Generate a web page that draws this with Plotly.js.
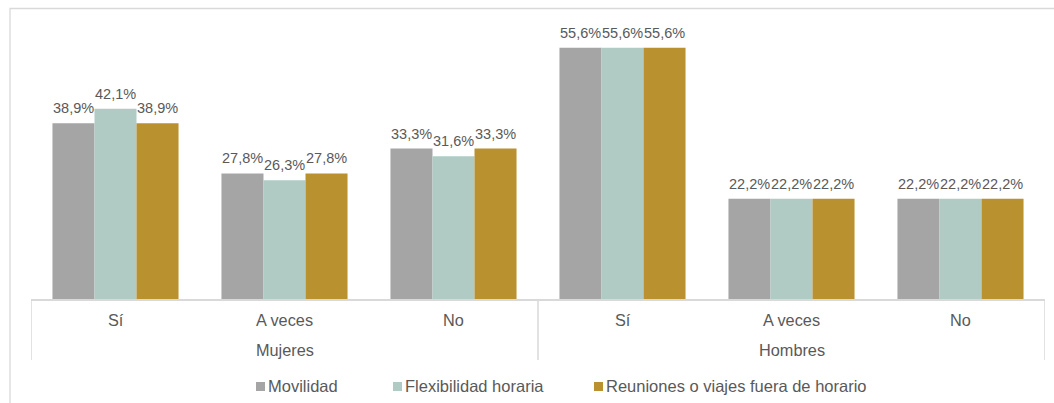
<!DOCTYPE html>
<html>
<head>
<meta charset="utf-8">
<script src="https://cdn.plot.ly/plotly-3.0.1.min.js"></script>
<style>html,body{margin:0;padding:0;background:#fff;}#chart{width:1054px;height:403px;}</style>
</head>
<body>
<div id="chart"></div>
<script>
var categories = ["Sí", "A veces", "No", "Sí", "A veces", "No"];
var groups = ["Mujeres", "Hombres"];
var seriesNames = ["Movilidad", "Flexibilidad horaria", "Reuniones o viajes fuera de horario"];
var movilidad = [38.9, 27.8, 33.3, 55.6, 22.2, 22.2];
var flexibilidad = [42.1, 26.3, 31.6, 55.6, 22.2, 22.2];
var reuniones = [38.9, 27.8, 33.3, 55.6, 22.2, 22.2];
var colors = ["#A5A5A5", "#B0CBC4", "#BA912F"];

var W = 1054, H = 403, ML = 31, MR = 9, MT = 28, MB = 104;
var PW = W - ML - MR, PH = H - MT - MB;
function px(x) { return (x - ML) / PW; }
function py(y) { return (H - MB - y) / PH; }

var bargap = 0.254;
var series = [movilidad, flexibilidad, reuniones];
var xs = categories.map(function (c, i) { return i; });
var barW = (1 - bargap) / 3;

var textColor = "#595959";
var font = "Liberation Sans, Arial, sans-serif";

var traces = series.map(function (vals, k) {
  return {
    type: "bar", x: xs, y: vals, name: seriesNames[k],
    marker: { color: colors[k] }, hoverinfo: "y+name", showlegend: false
  };
});

var annotations = [];
series.forEach(function (vals, k) {
  vals.forEach(function (v, i) {
    annotations.push({
      xref: "x", yref: "y", x: i + (k - 1) * barW, y: v,
      text: v.toFixed(1).replace(".", ",") + "%", showarrow: false,
      yanchor: "bottom", yshift: 5,
      font: { family: font, size: 14.5, color: textColor }
    });
  });
});
categories.forEach(function (c, i) {
  annotations.push({
    xref: "x", yref: "paper", x: i, y: py(319.5), text: c, showarrow: false,
    yanchor: "middle", font: { family: font, size: 16.3, color: textColor }
  });
});
groups.forEach(function (g, j) {
  annotations.push({
    xref: "x", yref: "paper", x: j * 3 + 1, y: py(350), text: g, showarrow: false,
    yanchor: "middle", font: { family: font, size: 16.3, color: textColor }
  });
});

var shapes = [];
[-0.5, 2.5, 5.5].forEach(function (x) {
  shapes.push({
    type: "line", xref: "x", yref: "paper", x0: x, x1: x, y0: 0, y1: py(360),
    line: { color: "#D9D9D9", width: 1.5 }
  });
});
// outer chart border
shapes.push({
  type: "rect", xref: "paper", yref: "paper",
  x0: px(10), x1: px(1060), y0: py(410), y1: py(8.5),
  line: { color: "#D9D9D9", width: 1.3 }, fillcolor: "rgba(0,0,0,0)"
});

// custom legend
var legendSquares = [256, 393, 594];
seriesNames.forEach(function (n, k) {
  var sx = legendSquares[k];
  shapes.push({
    type: "rect", xref: "paper", yref: "paper",
    x0: px(sx), x1: px(sx + 9), y0: py(391), y1: py(382),
    line: { width: 0 }, fillcolor: colors[k]
  });
  annotations.push({
    xref: "paper", yref: "paper", x: px(sx + 10), y: py(385.5), text: n,
    showarrow: false, xanchor: "left", yanchor: "middle",
    font: { family: font, size: 16.5, color: textColor }
  });
});

var layout = {
  width: W, height: H,
  margin: { l: ML, r: MR, t: MT, b: MB, pad: 0 },
  paper_bgcolor: "#ffffff", plot_bgcolor: "#ffffff",
  barmode: "group", bargap: bargap, bargroupgap: 0,
  showlegend: false,
  xaxis: {
    range: [-0.5, 5.5], showticklabels: false, ticks: "", showgrid: false,
    zeroline: false, showline: true, linecolor: "#D9D9D9", linewidth: 1.5, fixedrange: true
  },
  yaxis: {
    range: [0, 60], showticklabels: false, ticks: "", showgrid: false,
    zeroline: false, showline: false, fixedrange: true
  },
  annotations: annotations,
  shapes: shapes
};

Plotly.newPlot("chart", traces, layout, { displayModeBar: false, staticPlot: true });
</script>
</body>
</html>
